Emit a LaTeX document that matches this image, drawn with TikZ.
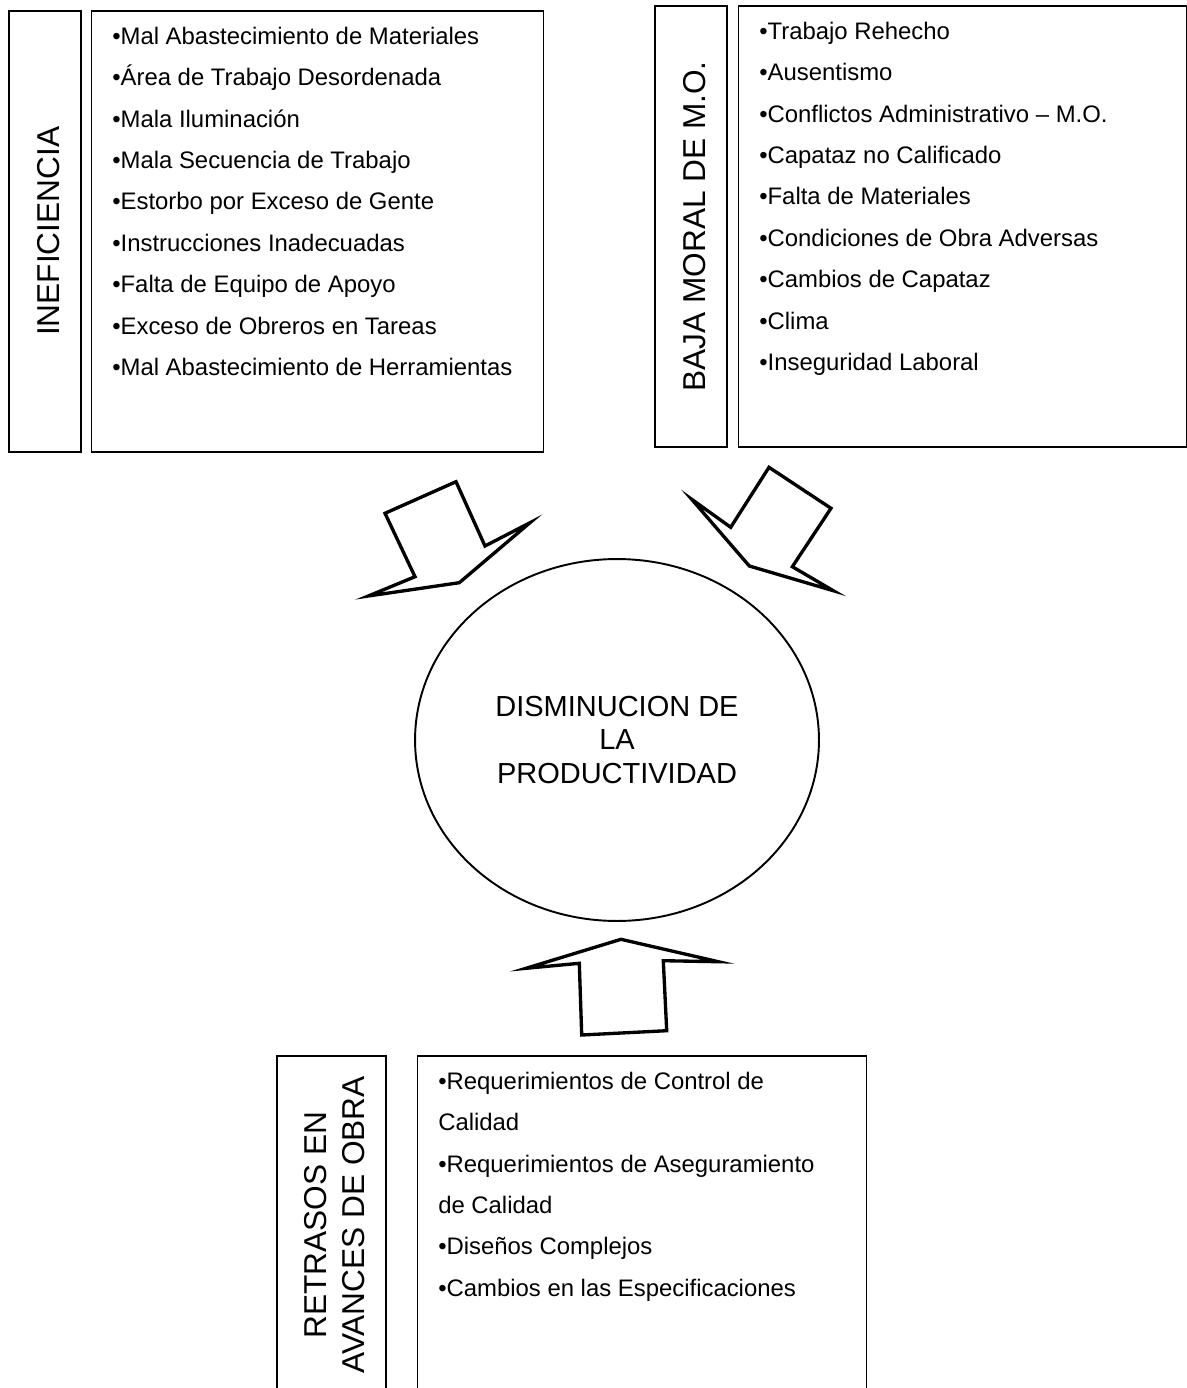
\documentclass[tikz,border=0pt]{standalone}
\usepackage{fontspec}
\setmainfont{Liberation Sans}
\usetikzlibrary{positioning,shapes.geometric,calc}

\begin{document}
\begin{tikzpicture}[
  x=0.02cm, y=-0.02cm,
  ttlbox/.style={rectangle, draw, line width=1.1pt, anchor=north west,
                 inner sep=0pt, minimum width=1.44cm},
  lstbox/.style={rectangle, draw, line width=0.75pt, inner sep=0pt},
  ttl/.style={rotate=90, font=\fontsize{18}{21.6}\selectfont,
              align=center, inner sep=0pt},
  item/.style={anchor=base west, inner sep=0pt,
               font=\fontsize{13.6}{16}\selectfont},
  prod/.style={ellipse, draw, line width=1.1pt, minimum width=8.08cm,
               minimum height=7.24cm, align=center,
               font=\fontsize{16.5}{19}\selectfont},
  blk/.style={draw, line width=1.9pt, line join=miter, miter limit=40}
]
\useasboundingbox (0,0) rectangle (1186,1388);

% causa 1
\node[ttlbox, minimum height=8.82cm]                (inefT) at (8,10) {};
\node[lstbox, minimum width=9.04cm, minimum height=8.82cm,
      right=0.18cm of inefT]                        (inefL) {};
\node[ttl] (inefTxt) at ([xshift=0.08cm] inefT.center) {INEFICIENCIA};
\foreach \txt [count=\i from 0] in {%
    •Mal Abastecimiento de Materiales,
    •Área de Trabajo Desordenada,
    •Mala Iluminación,
    •Mala Secuencia de Trabajo,
    •Estorbo por Exceso de Gente,
    •Instrucciones Inadecuadas,
    •Falta de Equipo de Apoyo,
    •Exceso de Obreros en Tareas,
    •Mal Abastecimiento de Herramientas}
  \node[item] (inef-\i) at ($(inefL.north west)+(21,34+41.4*\i)$) {\txt};

% causa 2
\node[ttlbox, minimum height=8.82cm]                (bajaT) at (654,5) {};
\node[lstbox, minimum width=8.96cm, minimum height=8.82cm,
      right=0.2cm of bajaT]                         (bajaL) {};
\node[ttl] (bajaTxt) at ([xshift=0.07cm] bajaT.center) {BAJA MORAL DE M.O.};
\foreach \txt [count=\i from 0] in {%
    •Trabajo Rehecho,
    •Ausentismo,
    •Conflictos Administrativo – M.O.,
    •Capataz no Calificado,
    •Falta de Materiales,
    •Condiciones de Obra Adversas,
    •Cambios de Capataz,
    •Clima,
    •Inseguridad Laboral}
  \node[item] (baja-\i) at ($(bajaL.north west)+(21,34+41.4*\i)$) {\txt};

% causa 3
\node[ttlbox, minimum width=2.18cm, minimum height=6.76cm] (retrT) at (276,1055) {};
\node[lstbox, minimum width=8.98cm, minimum height=6.76cm,
      right=0.6cm of retrT]                         (retrL) {};
\node[ttl] (retrTxt) at ([xshift=0.07cm] retrT.center)
  {RETRASOS EN\\AVANCES DE OBRA};
\foreach \txt [count=\i from 0] in {%
    •Requerimientos de Control de,
    Calidad,
    •Requerimientos de Aseguramiento,
    de Calidad,
    •Diseños Complejos,
    •Cambios en las Especificaciones}
  \node[item] (retr-\i) at ($(retrL.north west)+(21,34+41.4*\i)$) {\txt};

% efecto
\node[prod] (dism) at (617,740) {DISMINUCION DE\\LA\\PRODUCTIVIDAD};

% flechas de bloque
\draw[blk] (385,513.3) -- (456,481.7) -- (485,546) -- (530,522.7)
  -- (459.3,582.7) -- (368.3,596) -- (415,576.7) -- cycle;
\draw[blk] (769,467.3) -- (831,508.3) -- (792.3,566.7) -- (833.3,590.7)
  -- (749.3,566) -- (691.7,499.3) -- (730.7,527.3) -- cycle;
\draw[blk] (621,939.3) -- (718.3,961.7) -- (663.3,960.7) -- (666.7,1030.7)
  -- (581.7,1035) -- (579.3,963.3) -- (526,968.3) -- cycle;

\end{tikzpicture}
\end{document}
